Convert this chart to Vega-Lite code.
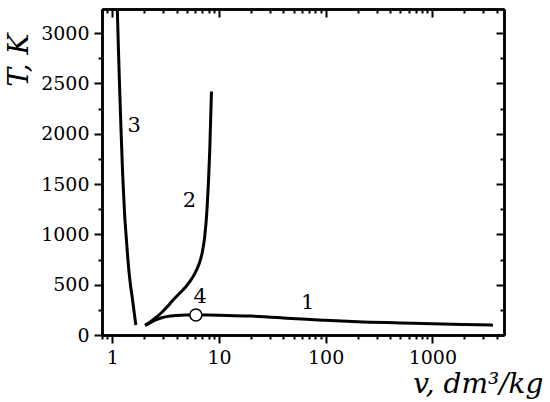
{
  "$schema": "https://vega.github.io/schema/vega-lite/v6.json",
  "autosize": "none",
  "width": 402,
  "height": 326,
  "padding": {"left": 102, "top": 9, "right": 46, "bottom": 67},
  "background": "white",
  "config": {
    "view": {"stroke": null},
    "axis": {
      "grid": false,
      "labelFont": "DejaVu Serif",
      "labelFontSize": 19,
      "labelColor": "black",
      "tickColor": "black",
      "tickWidth": 2,
      "domainColor": "black",
      "domainWidth": 2.5,
      "labelFlush": false,
      "titleFont": "DejaVu Serif",
      "titleFontStyle": "italic",
      "titleFontWeight": "normal",
      "titleFontSize": 28,
      "titleColor": "black"
    }
  },
  "datasets": {
    "curves": [
      {"curve": "1", "v": 2.03, "T": 95},
      {"curve": "1", "v": 2.3, "T": 125},
      {"curve": "1", "v": 2.55, "T": 150},
      {"curve": "1", "v": 2.9, "T": 172},
      {"curve": "1", "v": 3.3, "T": 185},
      {"curve": "1", "v": 4.0, "T": 194},
      {"curve": "1", "v": 5.0, "T": 198},
      {"curve": "1", "v": 6.07, "T": 199},
      {"curve": "1", "v": 8.0, "T": 198},
      {"curve": "1", "v": 12, "T": 195},
      {"curve": "1", "v": 20, "T": 188},
      {"curve": "1", "v": 40, "T": 170},
      {"curve": "1", "v": 60, "T": 158},
      {"curve": "1", "v": 100, "T": 146},
      {"curve": "1", "v": 200, "T": 131},
      {"curve": "1", "v": 500, "T": 120},
      {"curve": "1", "v": 1000, "T": 112},
      {"curve": "1", "v": 2000, "T": 105},
      {"curve": "1", "v": 3700, "T": 98},
      {"curve": "2", "v": 2.03, "T": 95},
      {"curve": "2", "v": 2.4, "T": 150},
      {"curve": "2", "v": 2.85, "T": 216},
      {"curve": "2", "v": 3.3, "T": 285},
      {"curve": "2", "v": 3.66, "T": 340},
      {"curve": "2", "v": 4.23, "T": 410},
      {"curve": "2", "v": 4.89, "T": 480},
      {"curve": "2", "v": 5.4, "T": 540},
      {"curve": "2", "v": 5.85, "T": 600},
      {"curve": "2", "v": 6.42, "T": 690},
      {"curve": "2", "v": 6.95, "T": 815},
      {"curve": "2", "v": 7.35, "T": 980},
      {"curve": "2", "v": 7.7, "T": 1230},
      {"curve": "2", "v": 7.95, "T": 1500},
      {"curve": "2", "v": 8.2, "T": 1850},
      {"curve": "2", "v": 8.5, "T": 2420},
      {"curve": "3", "v": 1.114, "T": 3225},
      {"curve": "3", "v": 1.14, "T": 2850},
      {"curve": "3", "v": 1.17, "T": 2458},
      {"curve": "3", "v": 1.21, "T": 2000},
      {"curve": "3", "v": 1.25, "T": 1595},
      {"curve": "3", "v": 1.3, "T": 1220},
      {"curve": "3", "v": 1.355, "T": 950},
      {"curve": "3", "v": 1.413, "T": 698},
      {"curve": "3", "v": 1.47, "T": 520},
      {"curve": "3", "v": 1.54, "T": 366},
      {"curve": "3", "v": 1.6, "T": 230},
      {"curve": "3", "v": 1.66, "T": 100}
    ],
    "point": [{"v": 6.07, "T": 199}],
    "labels": [
      {"label": "1", "v": 67.8, "T": 319},
      {"label": "2", "v": 5.27, "T": 1329},
      {"label": "3", "v": 1.6, "T": 2077},
      {"label": "4", "v": 6.66, "T": 382}
    ]
  },
  "resolve": {"axis": {"x": "independent", "y": "independent"}},
  "layer": [
    {
      "data": {"name": "curves"},
      "mark": {"type": "line", "color": "black", "strokeWidth": 3, "interpolate": "monotone"},
      "encoding": {
        "detail": {"field": "curve"},
        "x": {
          "field": "v", "type": "quantitative",
          "scale": {"type": "log", "domain": [0.8, 4700], "nice": false},
          "axis": {
            "orient": "bottom", "values": [1, 10, 100, 1000], "format": "d",
            "tickSize": 8, "labelPadding": 5,
            "title": "v, dm³/kg", "titleX": 441, "titleY": 57,
            "titleAlign": "right", "titleBaseline": "alphabetic", "titleAnchor": null
          }
        },
        "y": {
          "field": "T", "type": "quantitative",
          "scale": {"domain": [0, 3240], "nice": false, "zero": false},
          "axis": {
            "orient": "left", "values": [0, 500, 1000, 1500, 2000, 2500, 3000], "format": "d",
            "tickSize": 8, "labelPadding": 5,
            "title": "T, K", "titleAngle": 270, "titleX": -75, "titleY": 24,
            "titleAlign": "right", "titleBaseline": "alphabetic", "titleAnchor": null
          }
        }
      }
    },
    {
      "data": {"name": "curves"},
      "mark": {"type": "point", "opacity": 0},
      "encoding": {
        "x": {
          "field": "v", "type": "quantitative",
          "scale": {"type": "log", "domain": [0.8, 4700], "nice": false},
          "axis": {
            "orient": "bottom", "labels": false, "title": null, "tickSize": 4,
            "values": [0.8, 0.9, 2, 3, 4, 5, 6, 7, 8, 9, 20, 30, 40, 50, 60, 70, 80, 90, 200, 300, 400, 500, 600, 700, 800, 900, 2000, 3000, 4000]
          }
        },
        "y": {
          "field": "T", "type": "quantitative",
          "scale": {"domain": [0, 3240], "nice": false, "zero": false},
          "axis": {
            "orient": "left", "labels": false, "title": null, "tickSize": 4,
            "values": [250, 750, 1250, 1750, 2250, 2750]
          }
        }
      }
    },
    {
      "data": {"name": "labels"},
      "mark": {"type": "text", "font": "DejaVu Serif", "fontSize": 21, "color": "black", "baseline": "middle", "align": "center"},
      "encoding": {
        "text": {"field": "label"},
        "x": {
          "field": "v", "type": "quantitative",
          "scale": {"type": "log", "domain": [0.8, 4700], "nice": false},
          "axis": {"orient": "top", "labels": false, "title": null, "tickSize": -8, "values": [1, 10, 100, 1000]}
        },
        "y": {
          "field": "T", "type": "quantitative",
          "scale": {"domain": [0, 3240], "nice": false, "zero": false},
          "axis": {"orient": "right", "labels": false, "title": null, "tickSize": -8, "values": [0, 500, 1000, 1500, 2000, 2500, 3000]}
        }
      }
    },
    {
      "data": {"name": "point"},
      "mark": {"type": "point", "shape": "circle", "size": 144, "filled": true, "fill": "white", "stroke": "black", "strokeWidth": 1.5, "opacity": 1},
      "encoding": {
        "x": {
          "field": "v", "type": "quantitative",
          "scale": {"type": "log", "domain": [0.8, 4700], "nice": false},
          "axis": {
            "orient": "top", "labels": false, "title": null, "tickSize": -4,
            "values": [0.8, 0.9, 2, 3, 4, 5, 6, 7, 8, 9, 20, 30, 40, 50, 60, 70, 80, 90, 200, 300, 400, 500, 600, 700, 800, 900, 2000, 3000, 4000]
          }
        },
        "y": {
          "field": "T", "type": "quantitative",
          "scale": {"domain": [0, 3240], "nice": false, "zero": false},
          "axis": {"orient": "right", "labels": false, "title": null, "tickSize": -4, "values": [250, 750, 1250, 1750, 2250, 2750]}
        }
      }
    }
  ]
}
